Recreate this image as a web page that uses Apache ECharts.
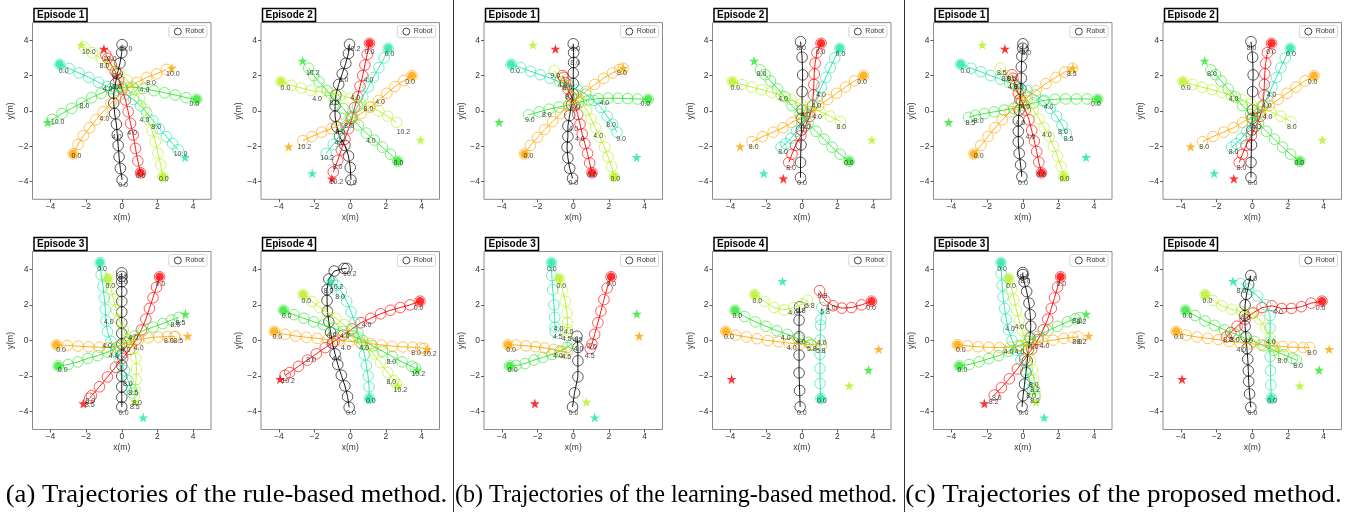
<!DOCTYPE html>
<html><head><meta charset="utf-8">
<script src="https://cdn.jsdelivr.net/npm/echarts@6/dist/echarts.min.js"></script>
<style>html,body{margin:0;padding:0;background:#fff;}#c{width:1347px;height:512px;}</style>
</head><body><div id="c"></div>
<script>
// ---------------- DATA ----------------
const tickValues = [-4, -2, 0, 2, 4];
const captions = ['(a) Trajectories of the rule-based method.', '(b) Trajectories of the learning-based method.', '(c) Trajectories of the proposed method.'];
const episodeTitles = ['Episode 1', 'Episode 2', 'Episode 3', 'Episode 4'];
// human order: red, spring, yellowgreen, green, orange
const ep1Starts = [[1.05,-3.5],[-3.48,2.64],[2.3,-3.72],[4.2,0.66],[-2.73,-2.43]];
const ep1Goals  = [[-1.0,3.51],[3.55,-2.62],[-2.26,3.74],[-4.15,-0.64],[2.8,2.43]];
const ep2Starts = [[1.08,3.83],[2.13,3.55],[-3.89,1.66],[2.66,-2.85],[3.46,1.99]];
const ep2Goals  = [[-1.03,-3.83],[-2.13,-3.53],[3.93,-1.64],[-2.67,2.83],[-3.45,-2.02]];
const ep3Starts = [[2.12,3.58],[-1.22,4.38],[-0.78,3.48],[-3.56,-1.43],[-3.66,-0.24]];
const ep3Goals  = [[-2.15,-3.54],[1.2,-4.33],[0.74,-3.45],[3.56,1.49],[3.69,0.25]];
const ep4Starts = [[3.91,2.21],[1.07,-3.26],[-2.64,2.58],[-3.74,1.7],[-4.26,0.52]];
const ep4Goals  = [[-3.93,-2.17],[-1.08,3.33],[2.66,-2.54],[3.74,-1.66],[4.31,-0.49]];

// (a) rule-based
const a1Robot = [[0.02,-3.9],[-0.08,-3.25],[-0.15,-2.6],[-0.2,-1.95],[-0.25,-1.35],[-0.3,-0.75],[-0.4,-0.15],[-0.45,0.45],[-0.45,1.0],[-0.35,1.55],[-0.25,2.1],[-0.1,2.7],[0.0,3.3],[0.02,3.75]];
const a1Red = [[1.05,-3.5],[0.9,-2.83],[0.77,-2.12],[0.64,-1.36],[0.49,-0.7],[0.36,-0.04],[0.21,0.62],[0.02,1.23],[-0.17,1.75],[-0.36,2.23],[-0.58,2.6],[-0.79,2.98],[-0.9,3.2]];
const a1Spring = [[-3.48,2.64],[-2.95,2.4],[-2.4,2.15],[-1.85,1.9],[-1.3,1.62],[-0.8,1.38],[-0.3,1.18],[0.2,0.95],[0.65,0.65],[1.05,0.3],[1.4,-0.1],[1.75,-0.55],[2.1,-1.0],[2.5,-1.45],[2.85,-1.85],[3.15,-2.2]];
const a1Yg = [[2.3,-3.72],[2.18,-3.05],[2.03,-2.4],[1.88,-1.75],[1.7,-1.12],[1.5,-0.5],[1.28,0.1],[1.0,0.7],[0.68,1.25],[0.3,1.75],[-0.15,2.2],[-0.65,2.6],[-1.15,2.95],[-1.65,3.3],[-2.1,3.62]];
const a1Green = [[4.2,0.66],[3.6,0.75],[3.0,0.9],[2.4,1.03],[1.8,1.15],[1.2,1.28],[0.6,1.35],[0.0,1.35],[-0.6,1.25],[-1.15,1.0],[-1.7,0.75],[-2.25,0.45],[-2.8,0.15],[-3.35,-0.15],[-3.9,-0.48]];
const a1Orange = [[-2.73,-2.43],[-2.45,-1.9],[-2.15,-1.4],[-1.8,-0.95],[-1.45,-0.5],[-1.05,-0.05],[-0.6,0.45],[-0.15,0.9],[0.35,1.3],[0.85,1.62],[1.4,1.9],[1.95,2.1],[2.5,2.35]];
const a1Labels = [[0.21,3.49,'10.0'],[-1.85,3.32,'10.0'],[-0.67,2.92,'10.0'],[-0.97,2.55,'8.0'],[-0.26,1.98,'8.0'],[-0.79,1.23,'4.0'],[-0.26,1.34,'8.0'],[1.64,1.57,'8.0'],[1.27,1.19,'4.0'],[2.86,2.09,'10.0'],[-2.09,0.28,'8.0'],[-3.59,-0.64,'10.0'],[-3.25,2.28,'0.0'],[4.07,0.38,'0.0'],[-0.97,-0.45,'4.0'],[1.27,-0.51,'4.0'],[1.93,-0.92,'8.0'],[-0.28,-1.45,'4.0'],[0.58,-1.23,'4.0'],[3.29,-2.43,'10.0'],[-2.54,-2.58,'0.0'],[1.05,-3.66,'0.0'],[2.36,-3.87,'0.0'],[0.07,-4.19,'0.0']];

const a2Robot = [[0.04,-3.9],[0.0,-3.2],[-0.1,-2.55],[-0.3,-1.95],[-0.6,-1.45],[-0.75,-0.9],[-0.85,-0.3],[-0.85,0.3],[-0.8,0.9],[-0.65,1.5],[-0.45,2.1],[-0.25,2.7],[-0.1,3.25],[-0.04,3.77]];
const a2Red = [[1.08,3.83],[0.95,3.2],[0.82,2.6],[0.7,2.0],[0.55,1.4],[0.4,0.8],[0.25,0.2],[0.1,-0.4],[-0.1,-1.0],[-0.3,-1.6],[-0.5,-2.2],[-0.7,-2.8],[-0.95,-3.45]];
const a2Spring = [[2.13,3.55],[1.9,3.0],[1.6,2.45],[1.3,1.9],[1.0,1.35],[0.7,0.8],[0.4,0.25],[0.1,-0.3],[-0.25,-0.85],[-0.6,-1.4],[-0.95,-1.9],[-1.35,-2.4]];
const a2Yg = [[-3.89,1.66],[-3.3,1.45],[-2.75,1.3],[-2.2,1.15],[-1.65,1.08],[-1.1,1.0],[-0.55,0.9],[0.0,0.72],[0.55,0.5],[1.1,0.25],[1.6,0.0],[2.1,-0.3],[2.6,-0.65]];
const a2Green = [[2.66,-2.85],[2.25,-2.45],[1.8,-2.05],[1.35,-1.65],[0.9,-1.25],[0.45,-0.8],[0.0,-0.35],[-0.4,0.15],[-0.85,0.65],[-1.3,1.15],[-1.75,1.65],[-2.05,2.0],[-2.33,2.42]];
const a2Orange = [[3.46,1.99],[3.0,1.72],[2.5,1.38],[2.05,1.0],[1.6,0.6],[1.1,0.2],[0.6,-0.15],[0.05,-0.45],[-0.5,-0.75],[-1.05,-1.0],[-1.6,-1.2],[-2.15,-1.45],[-2.66,-1.68]];
const a2Labels = [[0.19,3.49,'10.2'],[1.08,3.36,'0.0'],[2.2,3.21,'0.0'],[-2.1,2.13,'10.2'],[3.35,1.66,'0.0'],[-3.63,1.28,'0.0'],[-1.86,0.7,'4.0'],[-0.89,0.43,'8.0'],[0.28,0.72,'4.0'],[1.67,0.53,'4.0'],[1.02,1.75,'4.0'],[-0.37,1.75,'8.0'],[1.02,0.09,'8.0'],[-0.06,-0.83,'8.0'],[-0.56,-1.21,'8.0'],[-0.6,-1.79,'4.0'],[1.15,-1.7,'4.0'],[2.98,-1.17,'10.2'],[-2.57,-2.02,'10.2'],[-1.3,-2.68,'10.2'],[-0.71,-3.15,'8.0'],[-0.78,-4.0,'10.2'],[0.09,-4.09,'0.0'],[2.7,-2.96,'0.0']];

const a3Robot = [[0,-3.73],[0,-3.2],[0,-2.6],[0,-2.0],[0,-1.4],[0,-0.8],[0,-0.2],[0,0.4],[0,1.0],[0,1.6],[0,2.2],[0,2.75],[0,3.3],[0,3.6],[0,3.8]];
const a3Red = [[2.12,3.58],[1.95,3.0],[1.75,2.4],[1.55,1.8],[1.35,1.2],[1.1,0.6],[0.8,0.05],[0.45,-0.5],[0.05,-1.0],[-0.35,-1.5],[-0.8,-2.05],[-1.25,-2.6],[-1.7,-3.1],[-1.8,-3.25]];
const a3Spring = [[-1.22,4.38],[-1.15,3.7],[-1.05,3.05],[-0.98,2.4],[-0.92,1.75],[-0.88,1.1],[-0.8,0.5],[-0.6,-0.05],[-0.35,-0.6],[-0.1,-1.15],[0.15,-1.7],[0.35,-2.25],[0.55,-2.75],[0.6,-2.95]];
const a3Yg = [[-0.78,3.48],[-0.6,2.9],[-0.45,2.3],[-0.3,1.7],[-0.15,1.15],[0.1,0.6],[0.4,0.05],[0.65,-0.45],[0.8,-1.0],[0.82,-1.6],[0.8,-2.2],[0.75,-2.75],[0.72,-3.15]];
const a3Green = [[-3.56,-1.43],[-3.0,-1.35],[-2.45,-1.2],[-1.9,-1.0],[-1.35,-0.85],[-0.8,-0.65],[-0.3,-0.4],[0.2,-0.1],[0.7,0.25],[1.2,0.55],[1.75,0.75],[2.3,0.95],[2.8,1.15],[3.2,1.3]];
const a3Orange = [[-3.66,-0.24],[-3.05,-0.28],[-2.45,-0.32],[-1.85,-0.35],[-1.25,-0.38],[-0.7,-0.4],[-0.15,-0.3],[0.4,-0.1],[0.95,0.05],[1.5,0.15],[2.05,0.2],[2.55,0.22],[2.95,0.22],[3.0,0.22]];
const a3Labels = [[-1.1,4.04,'0.0'],[0.07,3.54,'8.5'],[0.07,3.3,'8.0'],[-0.64,3.05,'0.0'],[2.17,3.15,'0.0'],[-0.73,1.05,'4.0'],[3.01,0.86,'8.0'],[3.29,0.99,'8.5'],[0.64,0.11,'4.0'],[2.64,-0.02,'8.0'],[3.16,-0.02,'8.5'],[-0.82,-0.3,'4.0'],[0.21,-0.54,'4.0'],[0.95,-0.41,'4.0'],[-0.45,-0.88,'4.0'],[-3.4,-0.54,'0.0'],[-3.31,-1.67,'0.0'],[0.34,-2.47,'8.0'],[0.64,-2.94,'8.5'],[0.86,-3.5,'8.0'],[0.73,-3.76,'8.5'],[-1.76,-3.39,'8.0'],[-1.79,-3.63,'8.5'],[0.11,-4.06,'0.0']];

const a4Robot = [[-0.06,-3.76],[-0.15,-3.15],[-0.3,-2.55],[-0.5,-1.95],[-0.7,-1.35],[-0.85,-0.75],[-1.0,-0.15],[-1.1,0.45],[-1.2,1.05],[-1.28,1.65],[-1.3,2.25],[-1.3,2.85],[-1.2,3.45],[-0.9,3.9],[-0.35,4.05],[-0.2,4.05]];
const a4Red = [[3.91,2.21],[3.35,2.0],[2.8,1.85],[2.25,1.7],[1.7,1.5],[1.15,1.25],[0.6,1.0],[0.1,0.65],[-0.4,0.3],[-0.9,-0.05],[-1.4,-0.4],[-1.9,-0.75],[-2.4,-1.1],[-2.9,-1.45],[-3.4,-1.8],[-3.65,-1.95]];
const a4Spring = [[1.07,-3.26],[1.05,-2.6],[1.0,-2.0],[0.9,-1.4],[0.8,-0.8],[0.65,-0.2],[0.45,0.4],[0.25,1.0],[0.05,1.6],[-0.2,2.2],[-0.5,2.75],[-0.8,3.1],[-1.0,3.3]];
const a4Yg = [[-2.64,2.58],[-2.15,2.2],[-1.7,1.85],[-1.25,1.55],[-0.8,1.25],[-0.35,0.9],[0.1,0.55],[0.5,0.15],[0.9,-0.25],[1.3,-0.75],[1.7,-1.25],[2.1,-1.8],[2.45,-2.25],[2.6,-2.45]];
const a4Green = [[-3.74,1.7],[-3.15,1.45],[-2.6,1.25],[-2.05,1.05],[-1.5,0.88],[-0.95,0.7],[-0.4,0.5],[0.15,0.25],[0.7,0.0],[1.25,-0.3],[1.8,-0.6],[2.35,-0.9],[2.9,-1.2],[3.45,-1.45],[3.65,-1.55]];
const a4Orange = [[-4.26,0.52],[-3.65,0.35],[-3.05,0.25],[-2.45,0.18],[-1.85,0.12],[-1.25,0.05],[-0.65,0.0],[-0.05,-0.05],[0.55,-0.1],[1.15,-0.18],[1.75,-0.25],[2.35,-0.32],[2.95,-0.36],[3.5,-0.38],[3.95,-0.42],[4.15,-0.45]];
const a4Labels = [[-0.02,3.71,'10.2'],[-0.76,3.01,'10.2'],[-1.22,2.77,'8.0'],[-0.57,2.45,'8.0'],[-2.46,2.21,'0.0'],[3.83,1.85,'0.0'],[-3.57,1.37,'0.0'],[0.91,0.86,'4.0'],[-4.09,0.21,'0.0'],[-1.04,0.3,'4.0'],[-0.3,0.26,'4.0'],[-0.24,-0.45,'4.0'],[0.78,-0.45,'4.0'],[-0.76,-1.07,'4.0'],[-2.19,-1.1,'8.0'],[2.3,-1.2,'8.0'],[3.69,-0.73,'8.0'],[4.46,-0.79,'10.2'],[3.81,-1.89,'10.2'],[2.3,-2.32,'8.0'],[2.81,-2.79,'10.2'],[-3.48,-2.27,'10.2'],[1.15,-3.39,'0.0'],[0.04,-4.06,'0.0']];

// (b) learning-based
const b1Robot = [[-0.04,-3.81],[-0.2,-3.25],[-0.3,-2.65],[-0.35,-2.05],[-0.3,-1.45],[-0.3,-0.85],[-0.2,-0.25],[-0.1,0.35],[0.0,0.95],[0.0,1.55],[0.0,2.15],[0.02,2.75],[0.02,3.3],[0.0,3.8]];
const b1Red = [[1.05,-3.5],[0.92,-2.95],[0.8,-2.4],[0.65,-1.85],[0.5,-1.3],[0.38,-0.75],[0.25,-0.2],[0.1,0.3],[-0.1,0.8],[-0.3,1.25],[-0.45,1.6],[-0.55,1.9],[-0.6,2.0]];
const b1Spring = [[-3.48,2.64],[-2.95,2.45],[-2.4,2.25],[-1.85,2.05],[-1.3,1.85],[-0.75,1.65],[-0.25,1.45],[0.25,1.2],[0.7,0.95],[1.15,0.6],[1.55,0.2],[1.9,-0.3],[2.2,-0.75],[2.45,-1.2]];
const b1Yg = [[2.3,-3.72],[2.15,-3.15],[1.95,-2.6],[1.75,-2.05],[1.5,-1.5],[1.25,-0.95],[1.0,-0.45],[0.75,0.05],[0.45,0.5],[0.1,0.95],[-0.3,1.4],[-0.7,1.85],[-1.07,2.28]];
const b1Green = [[4.2,0.66],[3.6,0.68],[3.05,0.7],[2.5,0.72],[1.95,0.72],[1.4,0.7],[0.85,0.62],[0.3,0.48],[-0.25,0.35],[-0.8,0.22],[-1.35,0.1],[-1.9,-0.05],[-2.5,-0.22]];
const b1Orange = [[-2.73,-2.43],[-2.4,-1.95],[-2.0,-1.5],[-1.6,-1.05],[-1.15,-0.6],[-0.7,-0.15],[-0.25,0.3],[0.2,0.7],[0.7,1.1],[1.2,1.5],[1.7,1.85],[2.2,2.15],[2.6,2.35],[2.8,2.42]];
const b1Labels = [[0.11,3.49,'9.0'],[0.11,2.7,'8.0'],[-3.26,2.28,'0.0'],[-1.01,1.98,'9.0'],[2.73,2.17,'9.0'],[-0.6,1.47,'4.0'],[-0.32,1.28,'8.0'],[-0.19,0.81,'8.0'],[0.11,0.21,'4.0'],[1.74,0.43,'4.0'],[4.04,0.38,'0.0'],[-1.48,-0.26,'8.0'],[-2.43,-0.51,'9.0'],[2.12,-0.79,'8.0'],[0.0,-1.02,'4.0'],[1.4,-1.42,'4.0'],[0.37,-1.6,'4.0'],[2.68,-1.58,'9.0'],[-2.51,-2.58,'0.0'],[1.05,-3.62,'0.0'],[2.36,-3.87,'0.0'],[0.0,-4.06,'0.0']];

const b2Robot = [[-0.07,-3.77],[-0.07,-2.91],[-0.04,-1.92],[-0.02,-1.08],[0.0,-0.42],[0.02,0.06],[0.02,1.09],[0.05,2.04],[0.02,3.04],[-0.07,3.92]];
const b2Red = [[1.08,3.83],[0.85,3.3],[0.75,2.7],[0.7,2.1],[0.68,1.5],[0.65,0.9],[0.6,0.3],[0.45,-0.3],[0.2,-0.85],[-0.05,-1.4],[-0.35,-1.95],[-0.55,-2.45],[-0.73,-2.92]];
const b2Spring = [[2.13,3.55],[1.85,3.0],[1.6,2.45],[1.35,1.9],[1.1,1.35],[0.85,0.8],[0.6,0.3],[0.3,-0.2],[0.0,-0.7],[-0.3,-1.15],[-0.6,-1.55],[-0.9,-1.85],[-1.16,-2.05]];
const b2Yg = [[-3.89,1.66],[-3.35,1.5],[-2.8,1.35],[-2.25,1.2],[-1.7,1.05],[-1.15,0.85],[-0.6,0.65],[-0.05,0.4],[0.5,0.2],[1.05,-0.05],[1.6,-0.3],[2.17,-0.6]];
const b2Green = [[2.66,-2.85],[2.15,-2.45],[1.7,-2.05],[1.25,-1.6],[0.8,-1.15],[0.35,-0.7],[-0.1,-0.2],[-0.55,0.3],[-0.95,0.8],[-1.35,1.25],[-1.75,1.7],[-2.05,2.05],[-2.32,2.32]];
const b2Orange = [[3.46,1.99],[2.95,1.7],[2.45,1.35],[1.95,1.0],[1.45,0.65],[0.95,0.3],[0.45,-0.05],[-0.05,-0.35],[-0.55,-0.65],[-1.05,-0.95],[-1.6,-1.2],[-2.2,-1.45],[-2.79,-1.74]];
const b2Labels = [[-0.04,3.58,'8.0'],[1.05,3.36,'0.0'],[2.17,3.21,'0.0'],[-2.26,2.09,'8.0'],[3.38,1.66,'0.0'],[-3.72,1.28,'0.0'],[-1.05,0.66,'4.0'],[1.08,0.91,'4.0'],[0.82,0.28,'4.0'],[0.21,-0.23,'4.0'],[0.86,-0.36,'4.0'],[0.21,-0.89,'4.0'],[2.22,-0.92,'8.0'],[-2.69,-2.02,'8.0'],[-1.05,-2.34,'8.0'],[-0.6,-3.25,'8.0'],[2.64,-2.96,'0.0'],[0.02,-4.06,'0.0']];

const b3Robot = [[-0.04,-3.73],[0.07,-2.94],[0.26,-2.04],[0.26,-1.14],[0.26,-0.39],[0.21,0.24]];
const b3Red = [[2.12,3.58],[1.9,2.95],[1.72,2.3],[1.55,1.65],[1.38,1.0],[1.2,0.35],[1.05,-0.2],[0.95,-0.45]];
const b3Spring = [[-1.22,4.38],[-1.2,3.65],[-1.15,2.85],[-1.08,2.0],[-1.04,1.3],[-1.02,0.75],[-1.01,0.5]];
const b3Yg = [[-0.78,3.48],[-0.6,2.85],[-0.45,2.2],[-0.35,1.55],[-0.32,1.0],[-0.33,0.6],[-0.35,0.45]];
const b3Green = [[-3.56,-1.43],[-3.2,-1.4],[-2.7,-1.3],[-2.2,-1.1],[-1.7,-0.95],[-1.2,-0.78],[-0.75,-0.6],[-0.35,-0.4],[-0.05,-0.15]];
const b3Orange = [[-3.66,-0.24],[-3.2,-0.25],[-2.65,-0.3],[-2.1,-0.35],[-1.6,-0.42],[-1.1,-0.5],[-0.65,-0.62],[-0.35,-0.65]];
const b3Labels = [[-1.2,4.04,'0.0'],[-0.67,3.05,'0.0'],[2.13,3.15,'0.0'],[-0.82,0.64,'4.0'],[-0.26,0.49,'4.0'],[-0.86,0.21,'4.5'],[-0.36,0.07,'4.5'],[0.26,0.02,'4.5'],[0.3,-0.49,'4.0'],[1.05,-0.39,'4.0'],[0.92,-0.88,'4.5'],[-0.86,-0.86,'4.0'],[-0.39,-0.92,'4.5'],[-3.48,-0.51,'0.0'],[-3.39,-1.67,'0.0'],[0.02,-4.06,'0.0']];

const b4Robot = [[-0.09,-3.73],[-0.12,-2.81],[-0.15,-1.82],[-0.15,-0.82],[-0.15,0.21],[-0.15,1.14],[-0.12,1.89]];
const b4Red = [[3.91,2.21],[3.35,2.0],[2.78,1.85],[2.25,1.82],[1.75,1.95],[1.3,2.25],[1.0,2.8]];
const b4Spring = [[1.07,-3.26],[1.03,-2.42],[1.02,-1.57],[1.02,-0.77],[1.03,0.02],[1.05,0.86],[1.08,1.18],[1.12,1.85]];
const b4Yg = [[-2.64,2.58],[-2.1,2.2],[-1.55,1.85],[-1.0,1.72],[-0.45,1.85],[0.05,2.05],[0.32,2.27]];
const b4Green = [[-3.74,1.7],[-3.2,1.35],[-2.6,1.05],[-2.0,0.8],[-1.4,0.55],[-0.8,0.35],[-0.2,0.1],[0.35,-0.1],[0.55,-0.25]];
const b4Orange = [[-4.26,0.52],[-3.7,0.3],[-3.1,0.2],[-2.5,0.1],[-1.9,0.0],[-1.3,-0.07],[-0.7,-0.15],[-0.1,-0.2],[0.5,-0.23],[1.1,-0.27]];
const b4Labels = [[0.45,1.93,'5.8'],[-0.06,1.67,'5.8'],[-0.49,1.52,'4.0'],[1.16,2.51,'5.8'],[1.63,1.84,'4.0'],[1.31,1.57,'5.8'],[-2.49,2.21,'0.0'],[3.88,1.85,'0.0'],[-3.61,1.37,'0.0'],[-4.08,0.21,'0.0'],[-0.9,0.11,'4.0'],[-0.06,-0.07,'4.0'],[1.12,-0.17,'4.0'],[-0.56,-0.45,'4.0'],[0.56,-0.49,'5.8'],[1.07,-0.58,'5.8'],[1.12,-3.39,'0.0'],[0.0,-4.06,'0.0']];

// (c) proposed
const c1Robot = [[-0.05,-3.72],[-0.12,-3.05],[-0.2,-2.4],[-0.25,-1.75],[-0.25,-1.15],[-0.25,-0.55],[-0.2,0.05],[-0.15,0.65],[-0.1,1.25],[-0.08,1.85],[-0.08,2.5],[-0.05,3.1],[0.0,3.55],[0.01,3.8]];
const c1Red = [[1.05,-3.5],[0.9,-2.9],[0.78,-2.3],[0.65,-1.7],[0.5,-1.1],[0.35,-0.5],[0.15,0.05],[-0.05,0.55],[-0.25,1.0],[-0.4,1.45],[-0.55,1.85],[-0.6,2.05]];
const c1Spring = [[-3.48,2.64],[-2.9,2.42],[-2.35,2.22],[-1.8,2.0],[-1.25,1.8],[-0.75,1.6],[-0.25,1.4],[0.25,1.15],[0.7,0.9],[1.15,0.55],[1.55,0.15],[1.9,-0.3],[2.2,-0.8],[2.45,-1.3]];
const c1Yg = [[2.3,-3.72],[2.15,-3.15],[1.95,-2.55],[1.72,-2.0],[1.48,-1.45],[1.2,-0.95],[0.92,-0.45],[0.6,0.05],[0.25,0.55],[-0.15,1.0],[-0.55,1.5],[-0.95,2.0],[-1.26,2.42]];
const c1Green = [[4.2,0.66],[3.6,0.68],[3.0,0.68],[2.4,0.68],[1.8,0.66],[1.2,0.6],[0.6,0.45],[0.05,0.3],[-0.5,0.15],[-1.05,0.05],[-1.6,-0.05],[-2.15,-0.15],[-2.65,-0.25],[-3.03,-0.36]];
const c1Orange = [[-2.73,-2.43],[-2.35,-1.95],[-1.95,-1.45],[-1.55,-0.95],[-1.15,-0.5],[-0.7,-0.05],[-0.25,0.35],[0.25,0.75],[0.75,1.15],[1.3,1.55],[1.85,1.9],[2.35,2.2],[2.79,2.42]];
const c1Labels = [[0.08,3.49,'8.5'],[0.2,3.26,'8.0'],[-3.22,2.28,'0.0'],[-1.17,2.17,'8.5'],[2.75,2.09,'8.5'],[-0.92,1.79,'8.0'],[-0.61,1.79,'8.5'],[-0.55,1.34,'4.0'],[-0.23,1.34,'8.0'],[0.14,0.21,'4.0'],[1.45,0.21,'4.0'],[4.1,0.38,'0.0'],[-2.94,-0.66,'8.5'],[-2.47,-0.6,'8.0'],[-0.14,-0.66,'4.0'],[2.25,-1.21,'8.0'],[2.57,-1.58,'8.5'],[0.42,-1.45,'4.0'],[1.35,-1.36,'4.0'],[-2.47,-2.58,'0.0'],[1.04,-3.62,'0.0'],[2.34,-3.87,'0.0'],[0.01,-4.06,'0.0']];

const c2Robot = [[-0.07,-3.77],[-0.07,-2.91],[-0.04,-1.92],[-0.02,-1.08],[0.0,-0.42],[0.02,0.06],[0.02,1.09],[0.05,2.04],[0.02,3.04],[-0.07,3.92]];
const c2Red = [[1.08,3.83],[0.85,3.3],[0.75,2.7],[0.7,2.1],[0.68,1.5],[0.65,0.9],[0.6,0.3],[0.45,-0.3],[0.2,-0.85],[-0.05,-1.4],[-0.35,-1.95],[-0.55,-2.45],[-0.73,-2.92]];
const c2Spring = [[2.13,3.55],[1.85,3.0],[1.6,2.45],[1.35,1.9],[1.1,1.35],[0.85,0.8],[0.6,0.3],[0.3,-0.2],[0.0,-0.7],[-0.3,-1.15],[-0.6,-1.55],[-0.9,-1.85],[-1.16,-2.05]];
const c2Yg = [[-3.89,1.66],[-3.35,1.5],[-2.8,1.35],[-2.25,1.2],[-1.7,1.05],[-1.15,0.85],[-0.6,0.65],[-0.05,0.4],[0.5,0.2],[1.05,-0.05],[1.6,-0.3],[2.17,-0.6]];
const c2Green = [[2.66,-2.85],[2.15,-2.45],[1.7,-2.05],[1.25,-1.6],[0.8,-1.15],[0.35,-0.7],[-0.1,-0.2],[-0.55,0.3],[-0.95,0.8],[-1.35,1.25],[-1.75,1.7],[-2.05,2.05],[-2.32,2.32]];
const c2Orange = [[3.46,1.99],[2.95,1.7],[2.45,1.35],[1.95,1.0],[1.45,0.65],[0.95,0.3],[0.45,-0.05],[-0.05,-0.35],[-0.55,-0.65],[-1.05,-0.95],[-1.6,-1.2],[-2.2,-1.45],[-2.79,-1.74]];
const c2Labels = [[-0.04,3.58,'8.0'],[1.05,3.36,'0.0'],[2.17,3.21,'0.0'],[-2.26,2.09,'8.0'],[3.38,1.66,'0.0'],[-3.72,1.28,'0.0'],[-1.05,0.66,'4.0'],[1.08,0.91,'4.0'],[0.82,0.28,'4.0'],[0.21,-0.23,'4.0'],[0.86,-0.36,'4.0'],[0.21,-0.89,'4.0'],[2.22,-0.92,'8.0'],[-2.69,-2.02,'8.0'],[-1.05,-2.34,'8.0'],[-0.6,-3.25,'8.0'],[2.64,-2.96,'0.0'],[0.02,-4.06,'0.0']];

const c3Robot = [[-0.04,-3.73],[0.02,-3.1],[0.1,-2.45],[0.18,-1.8],[0.25,-1.15],[0.32,-0.5],[0.4,0.15],[0.45,0.8],[0.42,1.45],[0.35,2.1],[0.22,2.75],[0.08,3.3],[0.0,3.7],[0.0,3.82]];
const c3Red = [[2.12,3.58],[1.95,3.0],[1.78,2.4],[1.6,1.8],[1.4,1.2],[1.15,0.6],[0.85,0.05],[0.5,-0.5],[0.1,-1.05],[-0.3,-1.6],[-0.75,-2.15],[-1.2,-2.65],[-1.6,-3.07]];
const c3Spring = [[-1.22,4.38],[-1.2,3.75],[-1.15,3.1],[-1.1,2.45],[-1.02,1.8],[-0.92,1.2],[-0.8,0.6],[-0.6,0.0],[-0.35,-0.55],[-0.1,-1.1],[0.15,-1.65],[0.38,-2.2],[0.55,-2.7],[0.68,-3.05]];
const c3Yg = [[-0.78,3.48],[-0.62,2.9],[-0.48,2.3],[-0.35,1.7],[-0.2,1.1],[-0.02,0.55],[0.15,0.0],[0.32,-0.55],[0.45,-1.1],[0.55,-1.65],[0.62,-2.2],[0.68,-2.75],[0.71,-3.2]];
const c3Green = [[-3.56,-1.43],[-3.0,-1.35],[-2.45,-1.2],[-1.9,-1.02],[-1.35,-0.85],[-0.8,-0.6],[-0.25,-0.3],[0.3,-0.05],[0.85,0.25],[1.4,0.55],[1.95,0.8],[2.5,1.05],[2.95,1.22],[3.19,1.29]];
const c3Orange = [[-3.66,-0.24],[-3.1,-0.3],[-2.5,-0.35],[-1.9,-0.38],[-1.3,-0.4],[-0.7,-0.38],[-0.1,-0.3],[0.5,-0.2],[1.1,-0.08],[1.7,0.02],[2.3,0.12],[2.8,0.18],[3.1,0.21]];
const c3Labels = [[-1.16,4.04,'0.0'],[0.09,3.58,'8.2'],[0.15,3.35,'8.0'],[-0.66,3.05,'0.0'],[2.16,3.15,'0.0'],[-0.71,0.64,'4.0'],[-0.19,0.77,'4.0'],[3.29,1.05,'8.2'],[3.05,1.1,'8.0'],[3.05,-0.07,'8.0'],[3.3,-0.07,'8.2'],[0.6,-0.36,'4.0'],[1.22,-0.32,'4.0'],[-0.79,-0.64,'4.0'],[-0.19,-0.64,'4.0'],[-3.47,-0.51,'0.0'],[-3.38,-1.67,'0.0'],[0.62,-2.51,'8.0'],[0.69,-2.79,'8.2'],[0.47,-3.13,'8.0'],[0.69,-3.39,'8.2'],[-1.45,-3.26,'8.0'],[-1.63,-3.45,'8.2'],[0.04,-4.06,'0.0']];

const c4Robot = [[-0.08,-3.76],[-0.15,-3.0],[-0.2,-2.3],[-0.22,-1.7],[-0.25,-1.05],[-0.3,-0.45],[-0.35,0.2],[-0.4,0.8],[-0.42,1.4],[-0.4,2.0],[-0.32,2.6],[-0.2,3.15],[-0.08,3.65]];
const c4Red = [[3.91,2.21],[3.3,2.1],[2.75,1.9],[2.2,1.8],[1.65,1.8],[1.1,1.95],[0.55,1.85],[0.05,1.55],[-0.4,1.2],[-0.85,0.8],[-1.2,0.45],[-1.45,0.2]];
const c4Spring = [[1.07,-3.26],[1.04,-2.5],[1.02,-1.7],[1.0,-0.9],[0.98,-0.1],[1.0,0.7],[1.0,1.4],[0.75,2.0],[0.3,2.5],[-0.2,2.9],[-0.65,3.2]];
const c4Yg = [[-2.64,2.58],[-2.2,2.25],[-1.7,1.95],[-1.15,1.75],[-0.6,1.62],[-0.05,1.5],[0.4,1.2],[0.75,0.7],[1.0,0.15],[1.25,-0.35],[1.5,-0.75]];
const c4Green = [[-3.74,1.7],[-3.2,1.4],[-2.65,1.1],[-2.1,0.85],[-1.55,0.6],[-1.0,0.38],[-0.45,0.15],[0.1,-0.05],[0.65,-0.3],[1.2,-0.55],[1.75,-0.8],[2.25,-1.0],[2.47,-1.1]];
const c4Orange = [[-4.26,0.52],[-3.7,0.3],[-3.1,0.2],[-2.5,0.12],[-1.9,0.05],[-1.3,-0.05],[-0.7,-0.12],[-0.1,-0.18],[0.5,-0.24],[1.1,-0.3],[1.7,-0.34],[2.3,-0.38],[2.85,-0.4],[3.22,-0.39]];
const c4Labels = [[0.0,3.43,'4.0'],[-0.61,2.77,'8.0'],[-2.51,2.21,'0.0'],[3.83,1.85,'0.0'],[1.45,1.61,'4.0'],[-3.63,1.37,'0.0'],[-0.38,1.24,'4.0'],[-4.11,0.21,'0.0'],[-1.35,0.02,'8.0'],[-0.98,0.02,'8.0'],[-0.23,-0.02,'4.0'],[1.04,-0.11,'4.0'],[-0.61,-0.51,'4.0'],[1.69,-1.14,'8.0'],[2.57,-1.42,'8.0'],[3.35,-0.73,'8.0'],[1.11,-3.39,'0.0'],[0.01,-4.06,'0.0']];

// ---------------- STYLE / LAYOUT ----------------
const ROBOT_COLOR = '#000000';
const HUMAN_COLORS = ['#ff0000', '#1ee6a6', '#b6f022', '#2ee62e', '#ffa500'];
const starPath = 'path://M50,0 L61.2,34.5 L97.6,34.5 L68.2,55.9 L79.4,90.5 L50,69.1 L20.6,90.5 L31.8,55.9 L2.4,34.5 L38.8,34.5 Z';
const W = 178.5;
const colLeft = [32.5, 261, 484, 712.5, 933.5, 1163];
const rowTop = [22.6, 251.5];
const rowH = [176.7, 178];
const epStarts = [ep1Starts, ep2Starts, ep3Starts, ep4Starts];
const epGoals = [ep1Goals, ep2Goals, ep3Goals, ep4Goals];
const panelTracks = [
  [a1Robot,a1Red,a1Spring,a1Yg,a1Green,a1Orange,a1Labels],
  [a2Robot,a2Red,a2Spring,a2Yg,a2Green,a2Orange,a2Labels],
  [a3Robot,a3Red,a3Spring,a3Yg,a3Green,a3Orange,a3Labels],
  [a4Robot,a4Red,a4Spring,a4Yg,a4Green,a4Orange,a4Labels],
  [b1Robot,b1Red,b1Spring,b1Yg,b1Green,b1Orange,b1Labels],
  [b2Robot,b2Red,b2Spring,b2Yg,b2Green,b2Orange,b2Labels],
  [b3Robot,b3Red,b3Spring,b3Yg,b3Green,b3Orange,b3Labels],
  [b4Robot,b4Red,b4Spring,b4Yg,b4Green,b4Orange,b4Labels],
  [c1Robot,c1Red,c1Spring,c1Yg,c1Green,c1Orange,c1Labels],
  [c2Robot,c2Red,c2Spring,c2Yg,c2Green,c2Orange,c2Labels],
  [c3Robot,c3Red,c3Spring,c3Yg,c3Green,c3Orange,c3Labels],
  [c4Robot,c4Red,c4Spring,c4Yg,c4Green,c4Orange,c4Labels]
];

const FONT = '"Liberation Sans", Arial, sans-serif';
const grids = [], xAxes = [], yAxes = [], series = [], titles = [], legends = [];
const fmt = v => String(v).replace('-', '\u2212');

panelTracks.forEach((tr, i) => {
  const group = Math.floor(i / 4), ep = i % 4;
  const col = group * 2 + (ep % 2), row = Math.floor(ep / 2);
  const left = colLeft[col], top = rowTop[row], h = rowH[row];
  grids.push({left, top, width: W, height: h, show: true, borderColor: '#8c8c8c', borderWidth: 1, backgroundColor: 'transparent', containLabel: false});
  const axBase = {gridIndex: i, type: 'value', min: -5, max: 5,
    splitLine: {show: false}, axisLine: {show: false, onZero: false},
    axisTick: {show: true, customValues: tickValues, length: 3, inside: false, lineStyle: {color: '#333', width: 0.8}},
    axisLabel: {customValues: tickValues, formatter: fmt, fontSize: 8.5, color: '#333', fontFamily: FONT},
    nameLocation: 'middle', nameTextStyle: {fontSize: 8.5, color: '#333', fontFamily: FONT}};
  xAxes.push(Object.assign({}, axBase, {position: 'bottom', name: 'x(m)', nameGap: 14, axisLabel: Object.assign({}, axBase.axisLabel, {margin: 3})}));
  yAxes.push(Object.assign({}, axBase, {position: 'left', name: 'y(m)', nameGap: 11, nameRotate: 90, axisLabel: Object.assign({}, axBase.axisLabel, {margin: 4})}));

  titles.push({text: episodeTitles[ep], left: left + 1.5, top: top - 14, padding: [1, 3, 1, 3], borderColor: '#000', borderWidth: 1.5,
    textStyle: {fontSize: 10, fontWeight: 'bold', color: '#000', fontFamily: FONT, lineHeight: 11}});
  legends.push({show: true, right: 1347 - (left + W - 4), top: top + 3, orient: 'horizontal', selectedMode: false,
    padding: [2, 3, 2, 5], itemWidth: 7, itemHeight: 7, itemGap: 4, borderColor: '#d4d4d4', borderWidth: 1, borderRadius: 2,
    data: [{name: 'Robot', icon: 'circle', itemStyle: {color: 'rgba(0,0,0,0)', borderColor: '#000', borderWidth: 0.9}}],
    textStyle: {fontSize: 7, color: '#333', fontFamily: FONT, padding: [0, 0, 0, -1]}});

  const colors = [ROBOT_COLOR].concat(HUMAN_COLORS);
  for (let a = 0; a < 6; a++) {
    const pts = tr[a];
    series.push({type: 'scatter', name: a === 0 ? 'Robot' : 'h' + a, xAxisIndex: i, yAxisIndex: i, data: pts,
      symbol: 'circle', symbolSize: 10.6, silent: true, animation: false, z: 2,
      itemStyle: {color: 'rgba(0,0,0,0)', borderColor: colors[a], borderWidth: 0.8, opacity: 0.8}});
    series.push({type: 'line', xAxisIndex: i, yAxisIndex: i, data: pts, showSymbol: false, symbol: 'none',
      silent: true, animation: false, z: 3, lineStyle: {color: colors[a], width: 1, opacity: 0.9}});
  }
  const starts = epStarts[ep], goals = epGoals[ep];
  series.push({type: 'scatter', xAxisIndex: i, yAxisIndex: i, silent: true, animation: false, z: 4, symbol: 'circle', symbolSize: 8.5,
    data: starts.map((p, k) => ({value: p, itemStyle: {color: HUMAN_COLORS[k]}}))});
  series.push({type: 'scatter', xAxisIndex: i, yAxisIndex: i, silent: true, animation: false, z: 4, symbol: starPath, symbolSize: 10,
    data: goals.map((p, k) => ({value: p, itemStyle: {color: HUMAN_COLORS[k]}}))});
  series.push({type: 'scatter', xAxisIndex: i, yAxisIndex: i, silent: true, animation: false, z: 5, symbolSize: 1,
    itemStyle: {color: 'rgba(0,0,0,0)'}, data: tr[6],
    label: {show: true, position: 'inside', formatter: p => p.value[2], fontSize: 7, color: '#111', fontFamily: FONT}});
});

const graphics = [
  {type: 'line', shape: {x1: 453.5, y1: 0, x2: 453.5, y2: 512}, style: {stroke: '#333', lineWidth: 1}},
  {type: 'line', shape: {x1: 904.5, y1: 0, x2: 904.5, y2: 512}, style: {stroke: '#333', lineWidth: 1}}
];
const capX = [226.5, 676, 1123.5];
const capScaleX = [1.045, 0.945, 1.065];
captions.forEach((t, k) => graphics.push({type: 'text', x: capX[k], y: 495, scaleX: capScaleX[k], scaleY: 1,
  style: {text: t, textAlign: 'center', textVerticalAlign: 'middle', font: '25.5px "Liberation Serif", "Times New Roman", serif', fill: '#000'}}));

const chart = echarts.init(document.getElementById('c'), null, {renderer: 'canvas'});
chart.setOption({animation: false, backgroundColor: '#fff', title: titles, legend: legends, grid: grids,
  xAxis: xAxes, yAxis: yAxes, series, graphic: graphics, tooltip: {show: false}});
</script></body></html>
